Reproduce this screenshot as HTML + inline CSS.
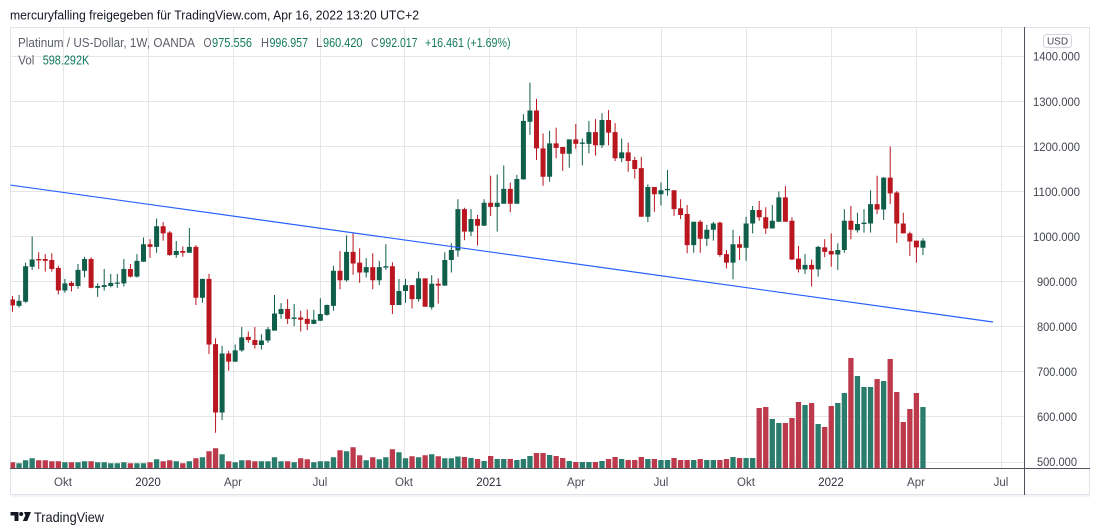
<!DOCTYPE html>
<html>
<head>
<meta charset="utf-8">
<style>
html,body{margin:0;padding:0;background:#fff;}
body{width:1100px;height:531px;overflow:hidden;}
svg{display:block;font-family:"Liberation Sans",Arial,sans-serif;}
</style>
</head>
<body>
<svg width="1100" height="531" viewBox="0 0 1100 531" xmlns="http://www.w3.org/2000/svg">
<rect x="0" y="0" width="1100" height="531" fill="#ffffff"/>
<text x="10" y="19.5" font-size="13" fill="#131722" textLength="409" lengthAdjust="spacingAndGlyphs">mercuryfalling freigegeben für TradingView.com, Apr 16, 2022 13:20 UTC+2</text>

<rect x="10.5" y="27.5" width="1079" height="467" fill="#fff" stroke="#e0e3eb" stroke-width="1"/>
<rect x="11" y="495" width="1079" height="2" fill="#f3f4f6"/>

<g stroke="#e6e6e6" stroke-width="1">
  <line x1="10" y1="56.5" x2="1024" y2="56.5"/>
  <line x1="10" y1="101.5" x2="1024" y2="101.5"/>
  <line x1="10" y1="146.5" x2="1024" y2="146.5"/>
  <line x1="10" y1="191.5" x2="1024" y2="191.5"/>
  <line x1="10" y1="236.5" x2="1024" y2="236.5"/>
  <line x1="10" y1="281.5" x2="1024" y2="281.5"/>
  <line x1="10" y1="326.5" x2="1024" y2="326.5"/>
  <line x1="10" y1="371.5" x2="1024" y2="371.5"/>
  <line x1="10" y1="416.5" x2="1024" y2="416.5"/>
  <line x1="10" y1="462.5" x2="1024" y2="462.5"/>
  <line x1="63.5" y1="27" x2="63.5" y2="468"/>
  <line x1="148.5" y1="27" x2="148.5" y2="468"/>
  <line x1="233.5" y1="27" x2="233.5" y2="468"/>
  <line x1="320.5" y1="27" x2="320.5" y2="468"/>
  <line x1="404.5" y1="27" x2="404.5" y2="468"/>
  <line x1="489.5" y1="27" x2="489.5" y2="468"/>
  <line x1="576.5" y1="27" x2="576.5" y2="468"/>
  <line x1="661.5" y1="27" x2="661.5" y2="468"/>
  <line x1="746.5" y1="27" x2="746.5" y2="468"/>
  <line x1="831.5" y1="27" x2="831.5" y2="468"/>
  <line x1="916.5" y1="27" x2="916.5" y2="468"/>
  <line x1="1001.5" y1="27" x2="1001.5" y2="468"/>
</g>

<defs>
  <clipPath id="cp"><rect x="10.5" y="28" width="1013.5" height="440"/></clipPath>
</defs>
<g clip-path="url(#cp)">
  <!-- volumes -->
  <g transform="matrix(6.55 0 0 -1 12.5 468)" fill="none" stroke-width="0.81">
    <path stroke="#2a7d6d" d="M1 0V4.7M2 0V7.7M3 0V9.7M8 0V5.7M10 0V5.7M11 0V6.7M13 0V5.7M14 0V5.7M15 0V4.7M16 0V4.7M17 0V5.7M19 0V4.7M20 0V4.7M22 0V8.7M25 0V6.7M27 0V6.7M29 0V10.7M32 0V13.7M34 0V5.7M35 0V7.7M38 0V6.7M39 0V6.7M40 0V10.7M41 0V6.7M43 0V5.7M46 0V5.7M47 0V6.7M48 0V6.7M49 0V10.7M51 0V16.7M54 0V7.7M56 0V8.7M57 0V10.7M59 0V15.7M60 0V9.7M62 0V10.7M64 0V13.7M66 0V9.7M67 0V9.7M68 0V11.5M70 0V10M72 0V7M74 0V9M75 0V9M77 0V8M78 0V9M79 0V12M82 0V13M85 0V7M87 0V6M88 0V6M90 0V7M93 0V9M97 0V9M99 0V8M100 0V8M104 0V8M106 0V8M107 0V8M110 0V11M112 0V10M113 0V10M116 0V49M117 0V45M121 0V63M123 0V44M126 0V65M127 0V75M129 0V92M130 0V81M131 0V81M133 0V87M139 0V61"/>
    <path stroke="#bc3a4b" d="M0 0V5.7M4 0V7.7M5 0V7.7M6 0V6.7M7 0V6.7M9 0V5.7M12 0V6.7M18 0V4.7M21 0V5.7M23 0V6.7M24 0V7.7M26 0V4.7M28 0V9.7M30 0V16.7M31 0V19.7M33 0V6.7M36 0V7.7M37 0V6.7M42 0V6.7M44 0V9.7M45 0V8.7M50 0V17.7M52 0V20.7M53 0V12.7M55 0V10.7M58 0V18.7M61 0V11.7M63 0V12.7M65 0V11.7M69 0V11M71 0V9M73 0V12M76 0V9M80 0V15M81 0V15M83 0V12M84 0V10M86 0V6M89 0V6M91 0V9M92 0V11M94 0V8M95 0V8M96 0V11M98 0V9M101 0V10M102 0V8M103 0V8M105 0V9M108 0V8M109 0V9M111 0V10M114 0V60M115 0V61M118 0V45M119 0V50M120 0V66M122 0V65M124 0V41M125 0V62M128 0V110M132 0V89M134 0V109M135 0V76M136 0V46M137 0V59M138 0V75"/>
  </g>
  <!-- candles -->
  <g transform="matrix(6.55 0 0 -0.45 12.5 687)" fill="none">
    <path stroke="#0e5e4a" stroke-width="0.153" d="M1 843V871M2 854V943M3 927V1001M8 876V907M10 885V940M11 910V956M13 867V897M14 881V929M15 888V918M16 887V918M17 890V951M19 910V962M20 945V999M22 965V1041M25 954V991M27 965V1020M29 854V907M32 593V758M34 722V761M35 745V800M38 750V784M39 765V800M40 792V871M41 818V853M43 802V851M46 806V838M47 813V864M48 825V850M49 836V936M51 901V1004M54 910V953M56 893V947M57 927V984M59 849V907M60 854V907M62 856V923M64 839V915M66 892V966M67 921V986M68 956V1084M70 1002V1062M72 1025V1084M74 1012V1139M75 1074V1159M77 1074V1138M78 1128V1273M79 1227V1343M82 1123V1236M85 1154V1217M87 1159V1219M88 1186V1258M90 1198V1275M93 1166V1219M97 1033V1117M99 1070V1121M100 1092V1149M104 965V1034M106 980V1027M107 992V1034M110 906V1016M112 947V1045M113 1008V1069M116 1019V1071M117 1034V1101M121 918V962M123 912V980M126 927V986M127 965V1062M129 1010V1054M130 1010V1062M131 1010V1104M133 1038V1133M139 960V997"/>
    <path stroke="#0e5e4a" stroke-width="0.763" d="M1 847V858M2 856V935M3 934V950M8 881V897M10 891V927M11 925V951M13 887V891M14 889V893M15 891V898M16 896V899M17 897V929M19 912V947M20 945V984M22 978V1024M25 960V969M27 965V978M29 865V907M32 610V741M34 723V748M35 748V777M38 760V770M39 770V795M40 792V830M41 829V840M43 818V821M46 807V816M47 814V829M48 827V849M49 847V925M51 904V967M54 921V933M56 904V933M57 932V935M59 849V880M60 880V893M62 862V908M64 844V896M66 892V949M67 949V971M68 970V1062M70 1012V1040M72 1025V1076M74 1067V1076M75 1074V1107M77 1074V1129M78 1128V1258M79 1256V1281M82 1134V1208M85 1185V1217M87 1207V1210M88 1207V1233M90 1204V1260M93 1175V1188M97 1045V1111M99 1095V1104M100 1104V1107M104 982V1034M106 996V1016M107 1016V1030M110 943V984M112 976V1030M113 1030V1060M116 1019V1036M117 1034V1088M121 928V938M123 928V978M126 961V971M127 971V1036M129 1015V1029M130 1029V1032M131 1030V1073M133 1061V1132M139 976V992"/>
    <path stroke="#b9161f" stroke-width="0.153" d="M0 834V869M4 929V966M5 923V962M6 923V964M7 872V936M9 879V902M12 886V955M18 910V940M21 954V995M23 992V1033M24 958V1013M26 956V979M28 849V982M30 740V918M31 565V775M33 703V747M36 765V790M37 752V800M42 807V862M44 790V836M45 793V839M50 884V969M52 916V1010M53 898V975M55 884V964M58 829V944M61 841V893M63 845V908M65 852V908M69 993V1065M71 981V1049M73 1047V1136M76 1055V1121M80 1171V1307M81 1114V1230M83 1175V1243M84 1147V1200M86 1196V1251M89 1181V1262M91 1204V1282M92 1169V1253M94 1145V1210M95 1130V1178M96 1045V1178M98 1056V1111M101 1047V1104M102 1040V1084M103 964V1071M105 965V1038M108 956V1034M109 930V971M111 949V1002M114 1036V1080M115 1007V1066M118 1034V1113M119 949V1044M120 921V980M122 890V950M124 955V995M125 934V1008M128 995V1069M132 1051V1136M134 1073V1201M135 987V1102M136 1008V1054M137 958V1012M138 943V992"/>
    <path stroke="#b9161f" stroke-width="0.763" d="M0 861V848M4 951V948M5 951V947M6 949V929M7 931V881M9 898V891M12 951V887M18 929V912M21 984V978M23 1024V1008M24 1010V960M26 969V965M28 978V865M30 907V761M31 762V610M33 741V723M36 778V771M37 771V760M42 840V818M44 821V816M45 818V807M50 925V904M52 967V941M53 943V921M55 933V904M58 935V849M61 893V862M63 908V845M65 896V892M69 1062V1012M71 1040V1025M73 1076V1067M76 1107V1074M80 1281V1197M81 1197V1134M83 1208V1198M84 1200V1185M86 1217V1207M89 1233V1204M91 1260V1232M92 1233V1175M94 1188V1169M95 1171V1151M96 1153V1045M98 1111V1095M101 1104V1062M102 1064V1049M103 1051V982M105 1034V996M108 1032V960M109 962V943M111 984V976M114 1060V1044M115 1044V1019M118 1088V1034M119 1036V950M120 952V928M122 938V928M124 977V967M125 969V961M128 1036V1016M132 1073V1061M134 1132V1097M135 1099V1030M136 1030V1008M137 1008V990M138 992V977"/>
  </g>
  <line x1="10" y1="185" x2="993" y2="322" stroke="#2962ff" stroke-width="1.2"/>
</g>

<line x1="10" y1="468.5" x2="1090" y2="468.5" stroke="#50535e" stroke-width="1"/>
<line x1="1024.5" y1="27" x2="1024.5" y2="495" stroke="#50535e" stroke-width="1"/>

<text x="18" y="47" font-size="12.5" fill="#5d606b" textLength="177" lengthAdjust="spacingAndGlyphs">Platinum / US-Dollar, 1W, OANDA</text>
<g font-size="12.5">
  <text x="203.5" y="47" fill="#5d606b" textLength="8" lengthAdjust="spacingAndGlyphs">O</text>
  <text x="212" y="47" fill="#127a5c" textLength="40" lengthAdjust="spacingAndGlyphs">975.556</text>
  <text x="261" y="47" fill="#5d606b" textLength="8" lengthAdjust="spacingAndGlyphs">H</text>
  <text x="269.5" y="47" fill="#127a5c" textLength="38.5" lengthAdjust="spacingAndGlyphs">996.957</text>
  <text x="316" y="47" fill="#5d606b" textLength="6.5" lengthAdjust="spacingAndGlyphs">L</text>
  <text x="323" y="47" fill="#127a5c" textLength="39.5" lengthAdjust="spacingAndGlyphs">960.420</text>
  <text x="371" y="47" fill="#5d606b" textLength="7.5" lengthAdjust="spacingAndGlyphs">C</text>
  <text x="379.5" y="47" fill="#127a5c" textLength="38" lengthAdjust="spacingAndGlyphs">992.017</text>
  <text x="425" y="47" fill="#127a5c" textLength="85.5" lengthAdjust="spacingAndGlyphs">+16.461 (+1.69%)</text>
  <text x="18.3" y="64.5" fill="#5d606b" textLength="16" lengthAdjust="spacingAndGlyphs">Vol</text>
  <text x="42.7" y="64.5" fill="#127a5c" textLength="46.6" lengthAdjust="spacingAndGlyphs">598.292K</text>
</g>

<rect x="1043.5" y="34.5" width="28" height="13" rx="3" fill="#fff" stroke="#d1d4dc"/>
<text x="1057.5" y="44.5" font-size="10" fill="#434651" text-anchor="middle">USD</text>
<g font-size="11.5" fill="#434651">
  <text x="1033" y="60.5" textLength="47" lengthAdjust="spacingAndGlyphs">1400.000</text>
  <text x="1033" y="106" textLength="47" lengthAdjust="spacingAndGlyphs">1300.000</text>
  <text x="1033" y="151" textLength="47" lengthAdjust="spacingAndGlyphs">1200.000</text>
  <text x="1033" y="196" textLength="47" lengthAdjust="spacingAndGlyphs">1100.000</text>
  <text x="1033" y="241" textLength="47" lengthAdjust="spacingAndGlyphs">1000.000</text>
  <text x="1037" y="286" textLength="40" lengthAdjust="spacingAndGlyphs">900.000</text>
  <text x="1037" y="331" textLength="40" lengthAdjust="spacingAndGlyphs">800.000</text>
  <text x="1037" y="376" textLength="40" lengthAdjust="spacingAndGlyphs">700.000</text>
  <text x="1037" y="421" textLength="40" lengthAdjust="spacingAndGlyphs">600.000</text>
  <text x="1037" y="466" textLength="40" lengthAdjust="spacingAndGlyphs">500.000</text>
</g>

<g font-size="11.5" fill="#4a4d57" text-anchor="middle">
  <text x="63" y="486">Okt</text>
  <text x="148" y="486" fill="#2a2e39">2020</text>
  <text x="233" y="486">Apr</text>
  <text x="320" y="486">Jul</text>
  <text x="404" y="486">Okt</text>
  <text x="489" y="486" fill="#2a2e39">2021</text>
  <text x="576" y="486">Apr</text>
  <text x="661" y="486">Jul</text>
  <text x="746" y="486">Okt</text>
  <text x="831" y="486" fill="#2a2e39">2022</text>
  <text x="916" y="486">Apr</text>
  <text x="1001" y="486">Jul</text>
</g>

<g fill="#131722">
  <rect x="10.5" y="512" width="8" height="3.5"/>
  <rect x="14.5" y="512" width="4" height="9"/>
  <circle cx="21.2" cy="514" r="2"/>
  <polygon points="24,512 31,512 27.2,521 22.8,521 25.4,515.5"/>
</g>
<text x="34" y="522" font-size="14" fill="#131722" textLength="70" lengthAdjust="spacingAndGlyphs">TradingView</text>
</svg>
</body>
</html>
